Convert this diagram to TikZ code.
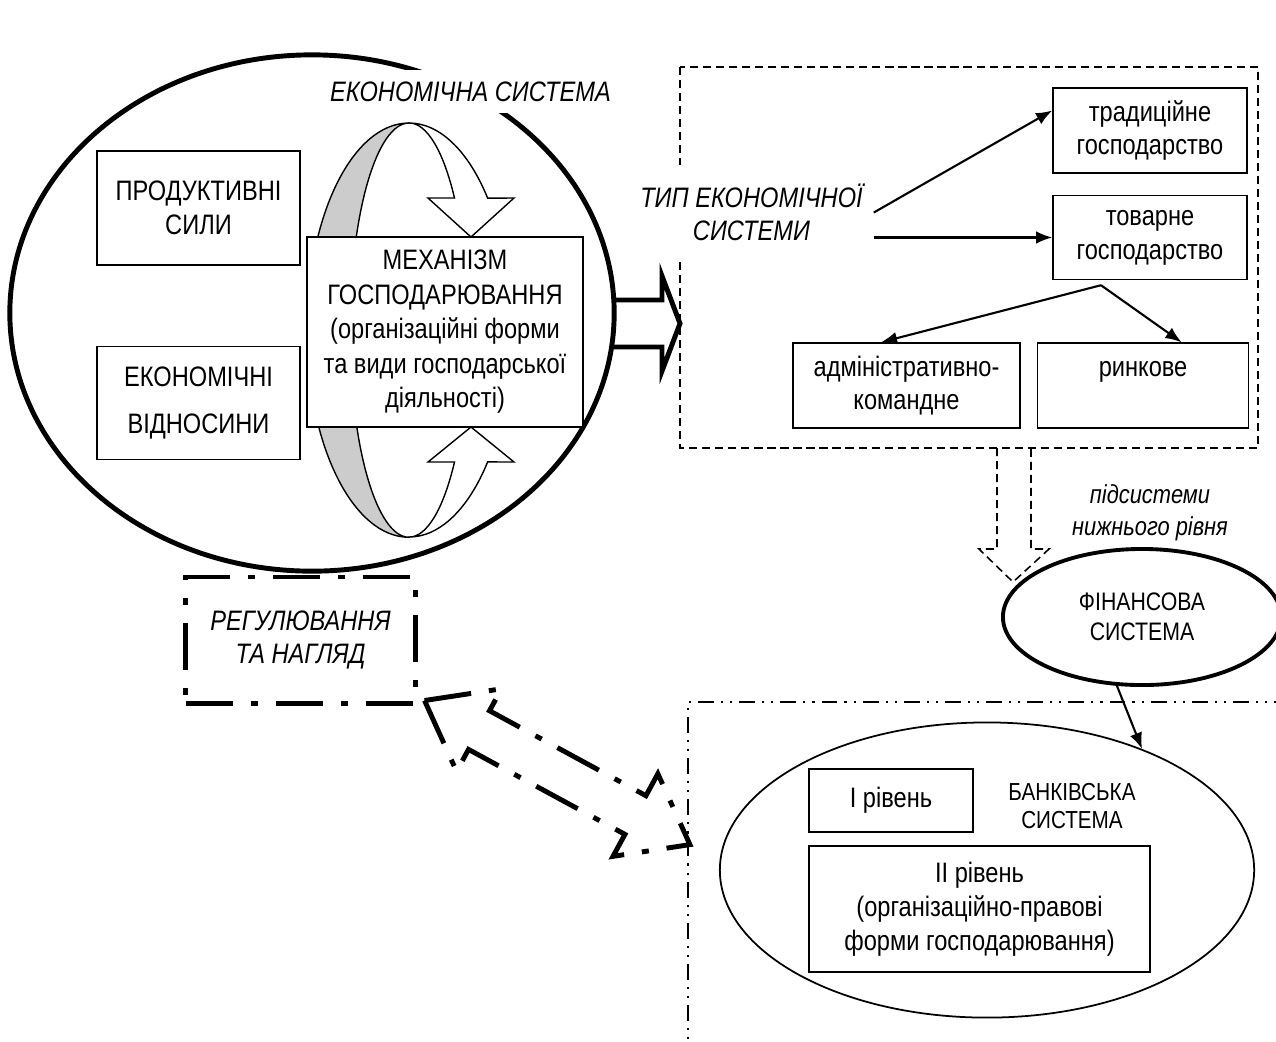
\documentclass[tikz,border=0pt]{standalone}
\usepackage{fontspec}
\setmainfont[FakeStretch=0.84]{Liberation Sans}
\usetikzlibrary{arrows.meta,positioning,calc,shapes.geometric}

\begin{document}
\begin{tikzpicture}[x=0.01cm, y=0.01cm,
        txt/.style={font=\fontsize{8}{9.6}\selectfont, align=center},
        itxt/.style={font=\fontsize{8}{9.4}\selectfont\itshape, align=center},
        stxt/.style={font=\fontsize{7.2}{8.6}\selectfont, align=center},
        box/.style={txt, draw, line width=0.4pt, fill=white, inner sep=0pt},
        arr/.style={-{Latex[length=4.6pt,width=3.6pt]}, line width=0.6pt},
        ring/.style={line width=0.4pt},
        dsh/.style={line width=0.45pt, dash pattern=on 2.3pt off 1.4pt},
        thickdd/.style={line width=1.4pt, dash pattern=on 13.4pt off 5.1pt on 2pt off 5.1pt},
        thindd/.style={line width=0.4pt, dash pattern=on 4.5pt off 2pt on 0.6pt off 2pt on 0.6pt off 2pt}
      ]
        \useasboundingbox (0,0) rectangle (1276,-1041);

        % economic system
        \draw[line width=1.4pt] (312,-313) ellipse [x radius=3.02cm, y radius=2.58cm];
        \node[itxt, fill=white, minimum width=2.95cm, minimum height=0.43cm, inner sep=0pt] (ectitle) at (470.5,-91.5) {ЕКОНОМІЧНА СИСТЕМА};

        % ring with the two arrows
        \filldraw[ring, fill=gray!40] (409,-123) arc[start angle=90, end angle=270, x radius=1.02cm, y radius=2.07cm]
            arc[start angle=270, end angle=90, x radius=0.59cm, y radius=2.07cm] -- cycle;
        \filldraw[ring, fill=white] (409,-123) arc[start angle=90, end angle=39.6, x radius=1.02cm, y radius=2.07cm]
            -- (514,-198) -- (471,-237) -- (428,-198) -- (454.5,-198)
            arc[start angle=39.6, end angle=90, x radius=0.59cm, y radius=2.07cm] -- cycle;
        \filldraw[ring, fill=white] (409,-537) arc[start angle=270, end angle=320.4, x radius=1.02cm, y radius=2.07cm]
            -- (514,-462) -- (471,-427) -- (428,-462) -- (454.5,-462)
            arc[start angle=320.4, end angle=270, x radius=0.59cm, y radius=2.07cm] -- cycle;

        \node[box, minimum width=2.03cm, minimum height=1.14cm] (prod) at (198.5,-208) {ПРОДУКТИВНІ\\СИЛИ};
        \node[box, minimum width=2.03cm, minimum height=1.13cm, below=0.8cm of prod] (rel) {ЕКОНОМІЧНІ\\[0.14cm]ВІДНОСИНИ};
        \node[box, font=\fontsize{8}{9.8}\selectfont, minimum width=2.76cm, minimum height=1.9cm] (mech) at (445,-332)
            {МЕХАНІЗМ\\ГОСПОДАРЮВАННЯ\\(організаційні форми\\та види господарської\\діяльності)};

        % block arrow to the type frame
        \draw[line width=1.4pt] (612,-300) -- (662,-300) -- (662,-276) -- (680,-323.5) -- (662,-371) -- (662,-347) -- (612,-347);

        % type of economic system
        \draw[dsh] (680,-67) rectangle (1258,-448);
        \node[itxt, fill=white, minimum width=2.43cm, minimum height=0.95cm, inner sep=0pt] (type) at (751.5,-212.5) {ТИП ЕКОНОМІЧНОЇ\\СИСТЕМИ};
        \node[box, minimum width=1.94cm, minimum height=0.85cm] (trad) at (1150,-130.5) {традиційне\\господарство};
        \node[box, minimum width=1.94cm, minimum height=0.84cm, below=0.21cm of trad] (goods) {товарне\\господарство};
        \node[box, minimum width=2.27cm, minimum height=0.85cm] (admin) at (906.5,-385.5) {адміністративно-\\командне};
        \node[box, minimum width=2.11cm, minimum height=0.85cm, right=0.16cm of admin] (market) {ринкове\\\mbox{}};
        \draw[arr] (type.east) -- ([yshift=0.2cm]trad.west);
        \draw[arr] (type.east |- goods.west) -- (goods.west);
        \coordinate (split) at ([xshift=-0.49cm,yshift=-0.05cm]goods.south);
        \draw[arr] (split) -- ([xshift=-0.255cm]admin.north);
        \draw[arr] (split) -- ([xshift=0.385cm]market.north);

        % subsystems
        \draw[dsh] (997,-448) -- (997,-549) -- (979,-549) -- (1013,-582) -- (1049,-549) -- (1031,-549) -- (1031,-448);
        \node[stxt, font=\fontsize{7.4}{9}\selectfont\itshape] (sub) at (1150,-513) {підсистеми\\нижнього рівня};
        \node[stxt, draw, ellipse, line width=1.1pt, minimum width=2.78cm, minimum height=1.36cm, inner sep=0pt] (fin) at (1142,-617) {ФІНАНСОВА\\СИСТЕМА};

        % banking system
        \draw[thindd] (1290,-702) -- (688,-702) -- (688,-1060);
        \node[draw, ellipse, line width=0.5pt, minimum width=5.34cm, minimum height=2.95cm] (bank) at (987,-870) {};
        \node[box, minimum width=1.64cm, minimum height=0.63cm] (lvl1) at (891,-800.5) {І рівень};
        \node[stxt, font=\fontsize{7}{8}\selectfont] (banktxt) at (1072,-806) {БАНКІВСЬКА\\СИСТЕМА};
        \node[box, minimum width=3.41cm, minimum height=1.26cm] (lvl2) at (979.5,-909) {ІІ рівень\\(організаційно-правові\\форми господарювання)};
        \draw[arr] (fin.250) -- (bank.38);

        % regulation
        \node[box, itxt, thickdd, minimum width=2.29cm, minimum height=1.26cm] (reg) at (300.5,-640) {РЕГУЛЮВАННЯ\\ТА НАГЛЯД};
        \begin{scope}[shift={($(reg.south east)+(7,5)$)}, rotate=-28.5]
          \draw[thickdd] (0,0) -- (62,47) -- (62,22) -- (240,22) -- (240,47) -- (302,0)
              -- (240,-47) -- (240,-22) -- (62,-22) -- (62,-47) -- cycle;
        \end{scope}
      \end{tikzpicture}
\end{document}
